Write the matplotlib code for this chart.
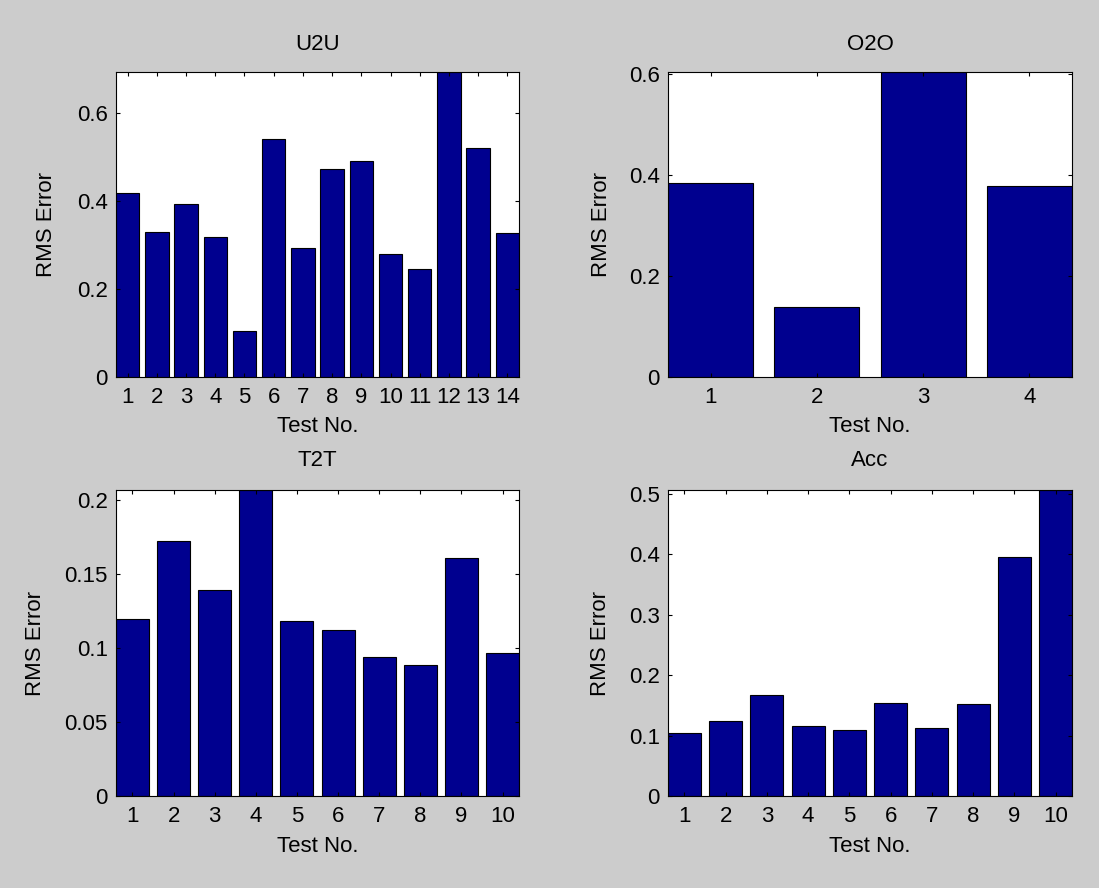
import matplotlib
matplotlib.use("Agg")
import matplotlib.pyplot as plt
import numpy as np

plt.rcParams['font.family'] = ['Liberation Sans', 'DejaVu Sans']

u2u_values = [0.418, 0.329, 0.392, 0.317, 0.105, 0.540, 0.293, 0.473, 0.491, 0.279, 0.245, 0.692, 0.520, 0.326]
o2o_values = [0.383, 0.1385, 0.603, 0.377]
t2t_values = [0.1198, 0.1725, 0.1394, 0.2068, 0.1182, 0.1119, 0.0941, 0.0887, 0.1608, 0.0968]
acc_values = [0.1048, 0.124, 0.1677, 0.1153, 0.1092, 0.1545, 0.1131, 0.1523, 0.396, 0.5065]

titles = ["U2U", "O2O", "T2T", "Acc"]
u2u_yticks = [0, 0.2, 0.4, 0.6]
o2o_yticks = [0, 0.2, 0.4, 0.6]
t2t_yticks = [0, 0.05, 0.1, 0.15, 0.2]
acc_yticks = [0, 0.1, 0.2, 0.3, 0.4, 0.5]
tick_fmt = [["0", "0.2", "0.4", "0.6"], ["0", "0.2", "0.4", "0.6"],
            ["0", "0.05", "0.1", "0.15", "0.2"], ["0", "0.1", "0.2", "0.3", "0.4", "0.5"]]

BG = "#cccccc"
BAR = "#00008f"
W, H = 1099, 888
fig = plt.figure(figsize=(W / 100, H / 100), dpi=100, facecolor=BG)

# axes boxes in pixel coords (left, top, right, bottom)
boxes = [(116, 72, 519, 377), (668, 72, 1072, 377), (116, 490, 519, 796), (668, 490, 1072, 796)]
# offsets in pixels: ylabel center left of axes, title center above axes, xlabel center below axes
ylab_off = [69, 66.5, 80.5, 67.5]
title_off = [28, 28, 29, 29]
xlab_off = [49, 49, 50, 50]
datas = [u2u_values, o2o_values, t2t_values, acc_values]
yticks_all = [u2u_yticks, o2o_yticks, t2t_yticks, acc_yticks]

FS = 16
for (l, t, r, b), vals, title, yt, ytl, yo, to, xo in zip(
        boxes, datas, titles, yticks_all, tick_fmt, ylab_off, title_off, xlab_off):
    aw, ah = r - l, b - t
    ax = fig.add_axes([l / W, 1 - b / H, aw / W, ah / H])
    ax.set_facecolor("white")
    x = np.arange(1, len(vals) + 1)
    ax.bar(x, vals, width=0.8, color=BAR, edgecolor="black", linewidth=0.8)
    ax.set_xlim(0.6, len(vals) + 0.4)
    ax.set_ylim(0, max(vals))
    ax.set_xticks(x)
    ax.set_xticklabels([str(i) for i in x], fontsize=FS)
    ax.set_yticks(yt)
    ax.set_yticklabels(ytl, fontsize=FS)
    ax.tick_params(direction="in", top=True, right=True, length=3.2, width=0.8)
    ax.tick_params(axis="x", pad=7)
    ax.tick_params(axis="y", pad=6)
    for s in ax.spines.values():
        s.set_linewidth(0.8)
    ax.set_xlabel("Test No.", fontsize=FS, va="center")
    ax.xaxis.set_label_coords(0.5, -xo / ah)
    ax.set_ylabel("RMS Error", fontsize=FS, va="center")
    ax.yaxis.set_label_coords(-yo / aw, 0.5)
    ax.set_title(title, fontsize=FS, y=1 + to / ah, va="center", pad=0)

fig.savefig("out.png", dpi=100, facecolor=BG)
